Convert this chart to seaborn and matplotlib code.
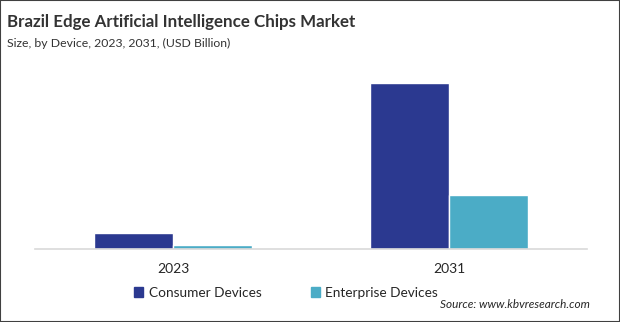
import matplotlib
matplotlib.use("Agg")
import matplotlib.pyplot as plt
import seaborn as sns
import pandas as pd
from matplotlib.patches import Rectangle

years = ["2023", "2031"]
consumer = [0.16, 1.66]
enterprise = [0.04, 0.54]
series_names = ["Consumer Devices", "Enterprise Devices"]
colors = ["#2B3990", "#4BACC6"]

df = pd.DataFrame({
    "Year": years * 2,
    "Value": consumer + enterprise,
    "Device": [series_names[0]] * len(years) + [series_names[1]] * len(years),
})

sns.set_theme(style="white")
plt.rcParams["font.family"] = ["Lato", "DejaVu Sans"]

fig = plt.figure(figsize=(6.2, 3.22), dpi=100)
ax = fig.add_axes([35 / 620, 1 - 249 / 322, 552 / 620, 179 / 322])
sns.barplot(data=df, x="Year", y="Value", hue="Device", palette=colors,
            width=0.575, ax=ax, legend=False, saturation=1)
ax.set_xlim(-0.5, 1.5)
ax.set_ylim(0, 1.79)
for s in ["top", "right", "left"]:
    ax.spines[s].set_visible(False)
ax.spines["bottom"].set_color("#D9D9D9")
ax.spines["bottom"].set_linewidth(1.2)
ax.set_yticks([])
ax.set_xlabel("")
ax.set_ylabel("")
ax.tick_params(axis="x", length=0, pad=10, labelsize=10, labelcolor="#262626")

fig.text(7 / 620, 1 - 22 / 322, "Brazil Edge Artificial Intelligence Chips Market",
         fontsize=12.2, fontweight="bold", color="#333333", va="center", ha="left")
fig.text(7 / 620, 1 - 43 / 322, "Size, by Device, 2023, 2031, (USD Billion)",
         fontsize=8.85, color="#333333", va="center", ha="left")

handles = [Rectangle((0, 0), 1, 1, color=c) for c in colors]
fig.legend(handles, series_names, loc="center", bbox_to_anchor=(286 / 620, 1 - 293 / 322),
           ncol=2, frameon=False, fontsize=9.8, handlelength=0.7, handleheight=0.7,
           handletextpad=0.4, columnspacing=3.6, labelcolor="#262626")
fig.text(590 / 620, 1 - 304 / 322, "Source: www.kbvresearch.com", fontsize=8.5,
         style="italic", color="#262626", ha="right", va="center")

border = Rectangle((0, 0), 1, 1, transform=fig.transFigure, fill=False,
                   edgecolor="#404040", linewidth=1.5)
fig.patches.append(border)

fig.savefig("out.png", dpi=100)
